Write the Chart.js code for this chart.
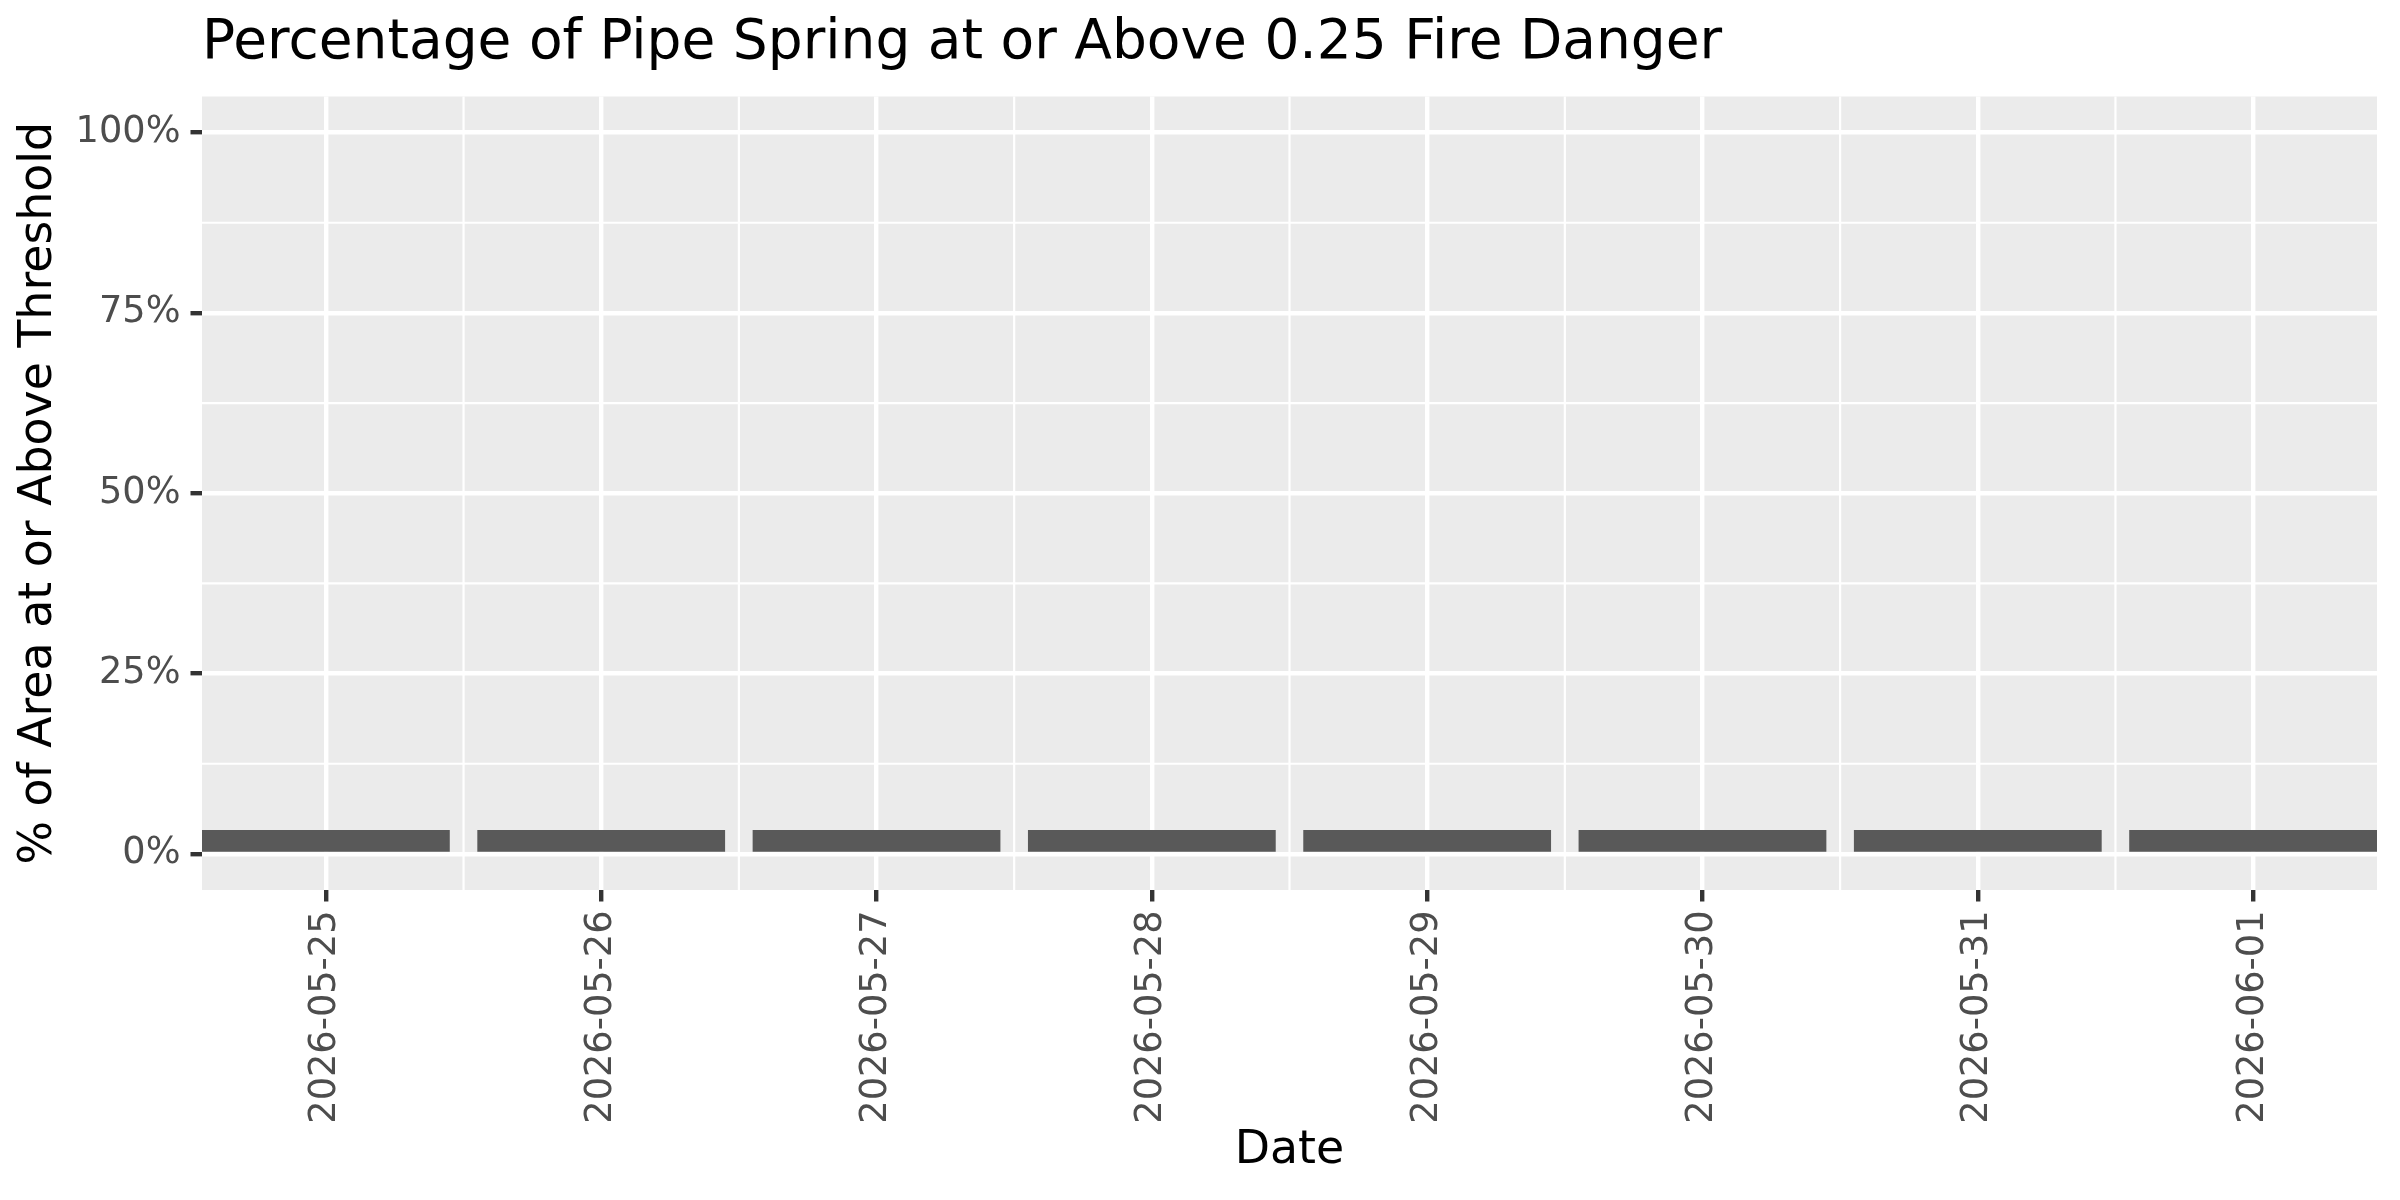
<!DOCTYPE html>
<html>
<head>
<meta charset="utf-8">
<title>Pipe Spring Fire Danger</title>
<script src="https://cdn.jsdelivr.net/npm/chart.js@4"></script>
<style>
  body { margin: 0; background: #fff; }
  #wrap { width: 2400px; height: 1200px; }
</style>
</head>
<body>
<div id="wrap"><canvas id="chart" width="2400" height="1200"></canvas></div>
<script>
// data
const dates = ['2026-05-25', '2026-05-26', '2026-05-27', '2026-05-28',
               '2026-05-29', '2026-05-30', '2026-05-31', '2026-06-01'];
const pctAbove = [3.33, 3.33, 3.33, 3.33, 3.33, 3.33, 3.33, 3.33];
const yTicks = [0, 25, 50, 75, 100];
const yMinor = [12.5, 37.5, 62.5, 87.5];

const FONT = 'DejaVu Sans';
const MAJOR_W = 4.4;
const MINOR_W = 2.2;

// grey panel + minor grid lines (ggplot look)
const panel = {
  id: 'panel',
  beforeDraw(chart) {
    const { ctx, chartArea: a } = chart;
    ctx.save();
    ctx.fillStyle = '#EBEBEB';
    ctx.fillRect(a.left, a.top, a.right - a.left, a.bottom - a.top);
    ctx.restore();
  },
  beforeDatasetsDraw(chart) {
    const { ctx, chartArea: a, scales } = chart;
    ctx.save();
    ctx.strokeStyle = '#FFFFFF';
    ctx.lineWidth = MINOR_W;
    ctx.beginPath();
    for (let i = 0; i < dates.length - 1; i++) {
      const x = scales.x.getPixelForValue(i + 0.5);
      ctx.moveTo(x, a.top);
      ctx.lineTo(x, a.bottom);
    }
    yMinor.forEach(v => {
      const y = scales.y.getPixelForValue(v);
      ctx.moveTo(a.left, y);
      ctx.lineTo(a.right, y);
    });
    ctx.stroke();
    ctx.restore();
  }
};

const gridOpts = {
  color: '#FFFFFF',
  lineWidth: MAJOR_W,
  tickLength: 11.5,
  tickWidth: MAJOR_W,
  tickColor: '#333333',
  offset: false
};

new Chart(document.getElementById('chart'), {
  type: 'bar',
  data: {
    datasets: [{
      data: pctAbove.map((v, i) => ({ x: i, y: v })),
      backgroundColor: '#595959',
      borderWidth: 0,
      barPercentage: 0.9,
      categoryPercentage: 1
    }]
  },
  options: {
    responsive: false,
    devicePixelRatio: 1,
    animation: false,
    layout: { padding: { left: 0, right: 23, top: 0, bottom: 0 } },
    plugins: {
      legend: { display: false },
      tooltip: { enabled: false },
      title: {
        display: true,
        text: 'Percentage of Pipe Spring at or Above 0.25 Fire Danger',
        align: 'start',
        fullSize: false,
        color: '#000000',
        font: { family: FONT, size: 55, weight: 'normal' },
        padding: { top: 11, bottom: 19.5 }
      }
    },
    scales: {
      x: {
        type: 'linear',
        min: -0.45,
        max: dates.length - 0.55,
        offset: false,
        border: { display: false },
        grid: gridOpts,
        afterBuildTicks: s => { s.ticks = dates.map((d, i) => ({ value: i })); },
        afterFit: s => { s.height = 310; },
        ticks: {
          autoSkip: false,
          minRotation: 90,
          maxRotation: 90,
          padding: 9,
          color: '#4D4D4D',
          font: { family: FONT, size: 36.7 },
          callback: v => dates[v]
        },
        title: {
          display: true,
          text: 'Date',
          color: '#000000',
          font: { family: FONT, size: 45.8 },
          padding: { top: 0, bottom: 21 }
        }
      },
      y: {
        min: -5,
        max: 105,
        border: { display: false },
        grid: gridOpts,
        afterBuildTicks: s => { s.ticks = yTicks.map(v => ({ value: v })); },
        afterFit: s => { s.width = 202; },
        ticks: {
          padding: 10,
          color: '#4D4D4D',
          font: { family: FONT, size: 36.7 },
          callback: v => v + '%'
        },
        title: {
          display: true,
          text: '% of Area at or Above Threshold',
          color: '#000000',
          font: { family: FONT, size: 45.8 },
          padding: { top: 11.5, bottom: 0 }
        }
      }
    }
  },
  plugins: [panel]
});
</script>
</body>
</html>
